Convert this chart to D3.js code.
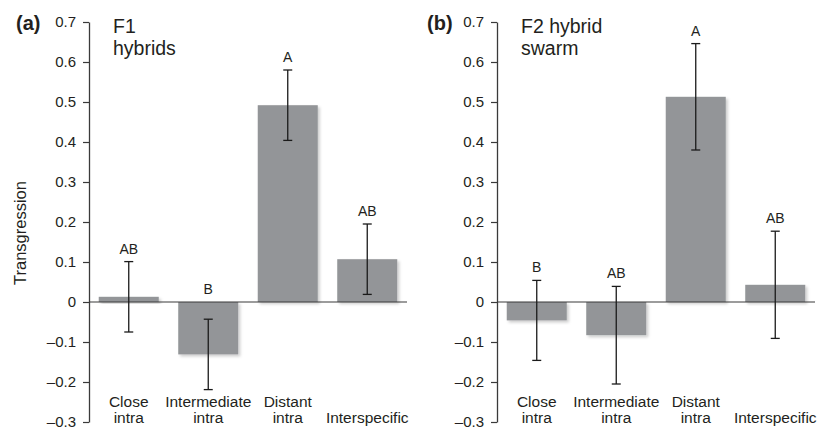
<!DOCTYPE html>
<html>
<head>
<meta charset="utf-8">
<script src="https://cdn.jsdelivr.net/npm/d3@7"></script>
<style>
  body { margin: 0; background: #fff; }
  text { font-family: "Liberation Sans", Arial, sans-serif; fill: #231f20; }
</style>
</head>
<body>
<div id="chart"></div>
<script>
// data
var categories = ["Close\nintra", "Intermediate\nintra", "Distant\nintra", "Interspecific"];
var yTicks = [-0.3, -0.2, -0.1, 0, 0.1, 0.2, 0.3, 0.4, 0.5, 0.6, 0.7];

var f1Means = [0.013, -0.131, 0.492, 0.107];
var f1Errors = [0.088, 0.088, 0.088, 0.088];
var f1Letters = ["AB", "B", "A", "AB"];

var f2Means = [-0.046, -0.083, 0.513, 0.043];
var f2Errors = [0.100, 0.122, 0.133, 0.134];
var f2Letters = ["B", "AB", "A", "AB"];

var W = 833, H = 431;
var svg = d3.select("#chart").append("svg")
    .attr("width", W)
    .attr("height", H);

// soft shadow under the bars
var filter = svg.append("defs").append("filter")
    .attr("id", "shadow")
    .attr("x", "-10%").attr("y", "-10%")
    .attr("width", "130%").attr("height", "130%");
filter.append("feDropShadow")
    .attr("dx", 2).attr("dy", 2)
    .attr("stdDeviation", 1.8)
    .attr("flood-color", "#000")
    .attr("flood-opacity", 0.2);

var y = d3.scaleLinear().domain([-0.3, 0.7]).range([422, 22]);

function drawPanel(axisX, tag, tagX, titleLines, means, errors, letters, yLabel) {
  var x = d3.scaleBand()
    .domain(categories)
    .range([axisX, axisX + 318])
    .paddingInner(0.245)
    .paddingOuter(0.1225);

  var g = svg.append("g");

  // bars
  g.selectAll("rect.bar")
    .data(categories)
    .enter()
    .append("rect")
      .attr("class", "bar")
      .attr("x", function(d) { return x(d); })
      .attr("width", x.bandwidth())
      .attr("y", function(d, i) { return y(Math.max(0, means[i])); })
      .attr("height", function(d, i) { return Math.abs(y(means[i]) - y(0)); })
      .style("fill", "#939598")
      .attr("filter", "url(#shadow)");

  // zero line
  g.append("line")
    .attr("x1", axisX).attr("x2", axisX + 318)
    .attr("y1", y(0)).attr("y2", y(0))
    .style("stroke", "#3a3a3a")
    .style("stroke-width", 1.2);

  // error bars
  var eb = g.selectAll("g.err")
    .data(categories)
    .enter()
    .append("g")
      .attr("class", "err")
      .attr("transform", function(d) { return "translate(" + (x(d) + x.bandwidth() / 2) + ",0)"; });
  eb.append("line")
    .attr("y1", function(d, i) { return y(means[i] + errors[i]); })
    .attr("y2", function(d, i) { return y(means[i] - errors[i]); });
  eb.append("line")
    .attr("x1", -4.5).attr("x2", 4.5)
    .attr("y1", function(d, i) { return y(means[i] + errors[i]); })
    .attr("y2", function(d, i) { return y(means[i] + errors[i]); });
  eb.append("line")
    .attr("x1", -4.5).attr("x2", 4.5)
    .attr("y1", function(d, i) { return y(means[i] - errors[i]); })
    .attr("y2", function(d, i) { return y(means[i] - errors[i]); });
  eb.selectAll("line")
    .style("stroke", "#1a1a1a")
    .style("stroke-width", 1.3);

  // significance letters
  g.selectAll("text.letter")
    .data(categories)
    .enter()
    .append("text")
      .attr("class", "letter")
      .attr("x", function(d) { return x(d) + x.bandwidth() / 2; })
      .attr("y", function(d, i) { return y(Math.max(0, means[i] + errors[i])) - 8; })
      .attr("text-anchor", "middle")
      .style("font-size", "14px")
      .text(function(d, i) { return letters[i]; });

  // category labels (bottom aligned)
  var lab = g.selectAll("text.cat")
    .data(categories)
    .enter()
    .append("text")
      .attr("class", "cat")
      .attr("text-anchor", "middle")
      .style("font-size", "15.5px");
  lab.each(function(d) {
    var lines = d.split("\n");
    var t = d3.select(this);
    var cx = x(d) + x.bandwidth() / 2;
    lines.forEach(function(l, k) {
      t.append("tspan")
        .attr("x", cx)
        .attr("y", 423 - (lines.length - 1 - k) * 16)
        .text(l);
    });
  });

  // y axis
  var axis = g.append("g")
    .attr("transform", "translate(" + axisX + ",0)")
    .call(d3.axisLeft(y)
      .tickValues(yTicks)
      .tickSize(6)
      .tickSizeOuter(0)
      .tickPadding(7)
      .tickFormat(function(d) {
        return d === 0 ? "0" : (d < 0 ? "\u2013" : "") + d3.format(".1f")(Math.abs(d));
      }));
  axis.select(".domain").style("stroke", "#3a3a3a").style("stroke-width", 1.3);
  axis.selectAll(".tick line").style("stroke", "#3a3a3a").style("stroke-width", 1.2);
  axis.selectAll(".tick text")
    .style("font-family", "'Liberation Sans', Arial, sans-serif")
    .style("font-size", "15px")
    .style("fill", "#231f20");

  // panel tag and title
  g.append("text")
    .attr("x", tagX).attr("y", 30)
    .style("font-size", "20px")
    .style("font-weight", "bold")
    .text(tag);
  titleLines.forEach(function(l, k) {
    g.append("text")
      .attr("x", axisX + 24).attr("y", 33 + k * 22)
      .style("font-size", "19.5px")
      .text(l);
  });

  if (yLabel) {
    g.append("text")
      .attr("transform", "translate(26," + 233 + ") rotate(-90)")
      .attr("text-anchor", "middle")
      .style("font-size", "16.5px")
      .text(yLabel);
  }
}

drawPanel(89, "(a)", 16, ["F1", "hybrids"], f1Means, f1Errors, f1Letters, "Transgression");
drawPanel(497, "(b)", 427, ["F2 hybrid", "swarm"], f2Means, f2Errors, f2Letters, null);
</script>
</body>
</html>
